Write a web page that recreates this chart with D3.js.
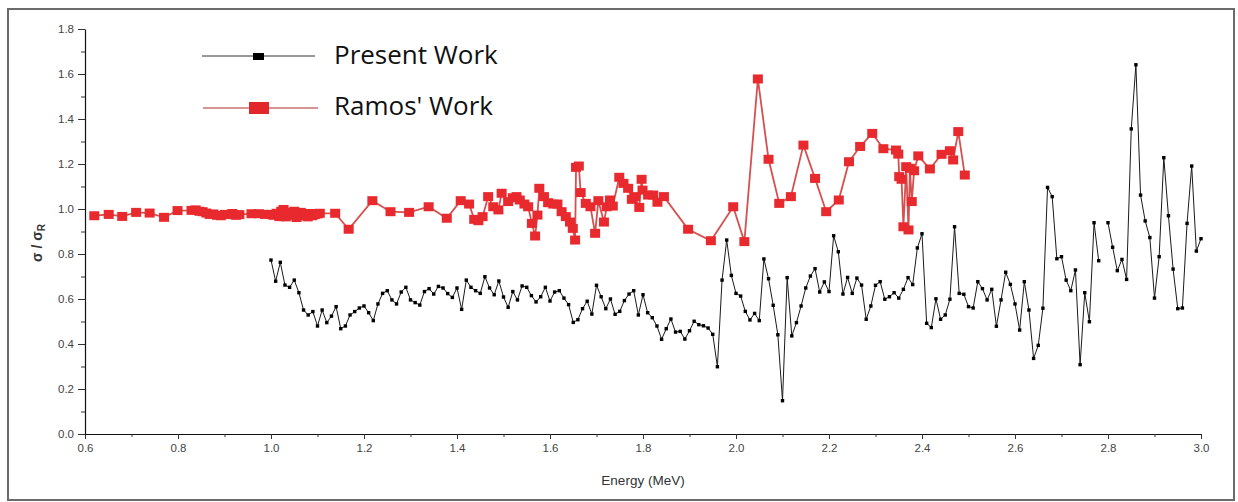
<!DOCTYPE html>
<html>
<head>
<meta charset="utf-8">
<script src="https://cdn.jsdelivr.net/npm/d3@7/dist/d3.min.js"></script>
<style>
  html, body { margin: 0; padding: 0; background: #fff; }
  svg { display: block; }
</style>
</head>
<body>
<svg id="chart" width="1238" height="502"></svg>
<script>
// Energy (MeV) of the present measurement
const presentEnergy = [
  1.00,1.01,1.02,1.03,1.04,1.05,1.06,1.07,1.08,1.09,
  1.10,1.11,1.12,1.13,1.14,1.15,1.16,1.17,1.18,1.19,
  1.20,1.21,1.22,1.23,1.24,1.25,1.26,1.27,1.28,1.29,
  1.30,1.31,1.32,1.33,1.34,1.35,1.36,1.37,1.38,1.39,
  1.40,1.41,1.42,1.43,1.44,1.45,1.46,1.47,1.48,1.49,
  1.50,1.51,1.52,1.53,1.54,1.55,1.56,1.57,1.58,1.59,
  1.60,1.61,1.62,1.63,1.64,1.65,1.66,1.67,1.68,1.69,
  1.70,1.71,1.72,1.73,1.74,1.75,1.76,1.77,1.78,1.79,
  1.80,1.81,1.82,1.83,1.84,1.85,1.86,1.87,1.88,1.89,
  1.90,1.91,1.92,1.93,1.94,1.95,1.96,1.97,1.98,1.99,
  2.00,2.01,2.02,2.03,2.04,2.05,2.06,2.07,2.08,2.09,
  2.10,2.11,2.12,2.13,2.14,2.15,2.16,2.17,2.18,2.19,
  2.20,2.21,2.22,2.23,2.24,2.25,2.26,2.27,2.28,2.29,
  2.30,2.31,2.32,2.33,2.34,2.35,2.36,2.37,2.38,2.39,
  2.40,2.41,2.42,2.43,2.44,2.45,2.46,2.47,2.48,2.49,
  2.50,2.51,2.52,2.53,2.54,2.55,2.56,2.57,2.58,2.59,
  2.60,2.61,2.62,2.63,2.64,2.65,2.66,2.67,2.68,2.69,
  2.70,2.71,2.72,2.73,2.74,2.75,2.76,2.77,2.78,2.79,
  2.80,2.81,2.82,2.83,2.84,2.85,2.86,2.87,2.88,2.89,
  2.90,2.91,2.92,2.93,2.94,2.95,2.96,2.97,2.98,2.99,3.00
];
// sigma / sigma_R of the present measurement (null = no point)
const presentRatio = [
  0.773,0.679,0.763,0.662,0.652,0.684,0.628,0.551,0.529,0.544,
  0.480,0.551,0.495,0.524,0.566,0.468,0.480,0.529,0.544,0.560,
  0.569,0.539,0.504,0.578,0.625,0.637,0.596,0.578,0.631,0.652,
  0.596,0.584,0.573,0.633,0.646,0.622,0.656,0.649,0.624,0.607,
  0.649,0.554,0.684,0.652,0.637,0.625,0.699,0.649,0.619,0.680,
  0.609,0.563,0.633,0.596,0.658,0.652,0.615,0.587,0.610,0.652,
  0.591,0.631,0.637,0.604,0.575,0.496,0.508,0.557,0.590,0.533,
  0.661,0.610,0.557,0.600,0.532,0.545,0.593,0.622,0.637,0.529,
  0.619,0.539,0.517,0.480,0.421,0.468,0.511,0.453,0.456,0.422,
  0.459,0.501,0.486,0.481,0.471,0.443,0.299,0.684,0.862,0.705,
  0.625,0.613,0.545,0.507,0.536,0.504,0.778,0.690,0.572,0.441,
  0.148,0.695,0.436,0.495,0.569,0.649,0.702,0.735,0.631,0.676,
  0.633,0.881,0.810,0.622,0.696,0.625,0.693,0.662,0.510,0.569,
  0.661,0.677,0.599,0.610,0.628,0.604,0.643,0.695,0.664,0.827,
  0.890,0.492,0.473,0.601,0.510,0.529,0.599,0.921,0.625,0.621,
  0.566,0.560,0.677,0.646,0.596,0.643,0.479,0.596,0.719,0.665,
  0.578,0.462,0.677,0.551,0.336,0.394,0.559,1.096,1.055,0.779,
  0.788,0.684,0.637,0.729,0.308,0.628,0.499,0.939,0.770,null,
  0.939,0.830,0.726,0.776,0.687,1.356,1.641,1.062,0.947,0.873,
  0.604,0.788,1.228,0.970,0.733,0.557,0.560,0.936,1.191,0.813,0.868
];

// Energy (MeV) of Ramos' data
const ramosEnergy = [
  0.620,0.651,0.680,0.710,0.739,0.770,0.799,0.829,0.838,0.846,
  0.853,0.861,0.868,0.876,0.884,0.892,0.901,0.909,0.917,0.925,
  0.932,0.958,0.974,0.987,0.999,1.005,1.012,1.018,1.022,1.027,
  1.032,1.036,1.041,1.046,1.050,1.055,1.060,1.064,1.069,1.074,
  1.079,1.084,1.089,1.094,1.100,1.105,1.138,1.167,1.218,1.257,
  1.297,1.339,1.378,1.408,1.426,1.437,1.446,1.455,1.467,1.478,
  1.489,1.496,1.510,1.520,1.528,1.535,1.545,1.553,1.561,1.568,
  1.573,1.577,1.587,1.596,1.607,1.616,1.625,1.634,1.643,1.649,
  1.654,1.656,1.662,1.666,1.677,1.687,1.697,1.704,1.716,1.722,
  1.729,1.735,1.749,1.758,1.768,1.776,1.783,1.792,1.797,1.799,
  1.811,1.822,1.831,1.845,1.897,1.946,1.994,2.018,2.047,2.070,
  2.093,2.118,2.145,2.170,2.194,2.221,2.243,2.267,2.293,2.317,
  2.344,2.349,2.351,2.356,2.360,2.366,2.371,2.374,2.378,2.383,
  2.392,2.417,2.442,2.460,2.467,2.478,2.492
];
// sigma / sigma_R of Ramos' data
const ramosRatio = [
  0.970,0.976,0.967,0.985,0.982,0.963,0.993,0.994,0.996,0.990,
  0.988,0.982,0.976,0.978,0.972,0.970,0.976,0.975,0.980,0.972,
  0.975,0.979,0.979,0.976,0.976,0.972,0.981,0.966,0.990,0.998,
  0.965,0.985,0.978,0.972,0.990,0.962,0.980,0.985,0.970,0.975,
  0.965,0.980,0.970,0.975,0.978,0.981,0.981,0.910,1.037,0.988,
  0.985,1.010,0.959,1.037,1.022,0.954,0.948,0.966,1.055,1.010,
  0.996,1.070,1.033,1.050,1.055,1.040,1.022,1.010,0.936,0.880,
  0.973,1.092,1.055,1.028,1.022,1.022,0.988,0.966,0.942,0.914,
  0.862,1.185,1.191,1.073,1.025,1.010,0.892,1.037,0.942,1.010,
  1.040,1.013,1.141,1.114,1.092,1.043,1.055,1.007,1.132,1.084,
  1.062,1.062,1.030,1.055,0.910,0.859,1.010,0.855,1.578,1.221,
  1.025,1.055,1.284,1.136,0.988,1.040,1.210,1.278,1.336,1.268,
  1.262,1.244,1.144,1.132,0.921,1.188,0.907,1.181,1.033,1.170,
  1.236,1.178,1.243,1.259,1.218,1.344,1.151
];

const xMajorTicks = [0.6,0.8,1.0,1.2,1.4,1.6,1.8,2.0,2.2,2.4,2.6,2.8,3.0];
const xMinorTicks = [0.7,0.9,1.1,1.3,1.5,1.7,1.9,2.1,2.3,2.5,2.7,2.9];
const yMajorTicks = [0.0,0.2,0.4,0.6,0.8,1.0,1.2,1.4,1.6,1.8];
const yMinorTicks = [0.1,0.3,0.5,0.7,0.9,1.1,1.3,1.5,1.7];

const seriesNames = ["Present Work", "Ramos' Work"];

const svg = d3.select("#chart");

// outer frame
svg.append("rect")
  .attr("x", 8).attr("y", 9).attr("width", 1226).attr("height", 491)
  .attr("fill", "none").attr("stroke", "#6b6b6b").attr("stroke-width", 2);

const x = d3.scaleLinear().domain([0.6, 3.0]).range([85, 1201]);
const y = d3.scaleLinear().domain([0, 1.8]).range([434, 29]);
const fmt = d3.format(".1f");

// axes
svg.append("g").attr("transform", "translate(0,434)")
  .call(d3.axisBottom(x).tickValues(xMajorTicks).tickFormat(fmt).tickSize(5).tickSizeOuter(0).tickPadding(5));
svg.append("g").attr("transform", "translate(0,434)")
  .call(d3.axisBottom(x).tickValues(xMinorTicks).tickFormat("").tickSize(3).tickSizeOuter(0))
  .select(".domain").remove();

svg.append("g").attr("transform", "translate(85,0)")
  .call(d3.axisLeft(y).tickValues(yMajorTicks).tickFormat(fmt).tickSize(7).tickSizeOuter(0).tickPadding(4));
svg.append("g").attr("transform", "translate(85,0)")
  .call(d3.axisLeft(y).tickValues(yMinorTicks).tickFormat("").tickSize(4).tickSizeOuter(0))
  .select(".domain").remove();

svg.selectAll(".domain").attr("stroke", "#111").attr("stroke-width", 1.2);
svg.selectAll(".tick line").attr("stroke", "#333");
svg.selectAll(".tick text")
  .attr("font-family", "'Liberation Sans', Arial, sans-serif")
  .attr("font-size", 11.5).attr("fill", "#444");

// axis titles
svg.append("text")
  .attr("x", 643).attr("y", 485)
  .attr("text-anchor", "middle")
  .attr("font-family", "'Liberation Sans', Arial, sans-serif")
  .attr("font-size", 13.5).attr("fill", "#333")
  .text("Energy (MeV)");

const yTitle = svg.append("text")
  .attr("transform", "translate(42,243) rotate(-90)")
  .attr("text-anchor", "middle")
  .attr("font-family", "'Liberation Sans', Arial, sans-serif")
  .attr("font-size", 14).attr("font-weight", "bold").attr("fill", "#333");
yTitle.append("tspan").text("σ / σ");
yTitle.append("tspan").attr("font-size", 10).attr("dy", 3).text("R");

// series
const present = presentEnergy.map((e, i) => ({ e, v: presentRatio[i] }));
const ramos = ramosEnergy.map((e, i) => ({ e, v: ramosRatio[i] }));

const line = d3.line()
  .defined(d => d.v !== null)
  .x(d => x(d.e)).y(d => y(d.v));

svg.append("path").datum(ramos)
  .attr("d", line).attr("fill", "none")
  .attr("stroke", "#d5504f").attr("stroke-width", 1.8);
svg.append("g").selectAll("rect").data(ramos).join("rect")
  .attr("x", d => x(d.e) - 5).attr("y", d => y(d.v) - 4.5)
  .attr("width", 10).attr("height", 9)
  .attr("fill", "#e8292d");

svg.append("path").datum(present)
  .attr("d", line).attr("fill", "none")
  .attr("stroke", "#1a1a1a").attr("stroke-width", 1);
svg.append("g").selectAll("rect").data(present.filter(d => d.v !== null)).join("rect")
  .attr("x", d => x(d.e) - 1.7).attr("y", d => y(d.v) - 1.7)
  .attr("width", 3.4).attr("height", 3.4)
  .attr("fill", "#000");

// legend
const legend = svg.append("g");
legend.append("line").attr("x1", 202).attr("x2", 315).attr("y1", 56).attr("y2", 56)
  .attr("stroke", "#333").attr("stroke-width", 1);
legend.append("rect").attr("x", 253).attr("y", 53).attr("width", 11).attr("height", 7).attr("fill", "#000");
legend.append("line").attr("x1", 203).attr("x2", 318).attr("y1", 108).attr("y2", 108)
  .attr("stroke", "#c97070").attr("stroke-width", 1.3);
legend.append("rect").attr("x", 249).attr("y", 102).attr("width", 20).attr("height", 12).attr("fill", "#e3262b");
legend.selectAll("text").data(seriesNames).join("text")
  .attr("x", 334).attr("y", (d, i) => 64 + i * 51)
  .attr("font-family", "'Open Sans', sans-serif")
  .attr("font-size", 26).attr("fill", "#111")
  .text(d => d);
</script>
</body>
</html>
